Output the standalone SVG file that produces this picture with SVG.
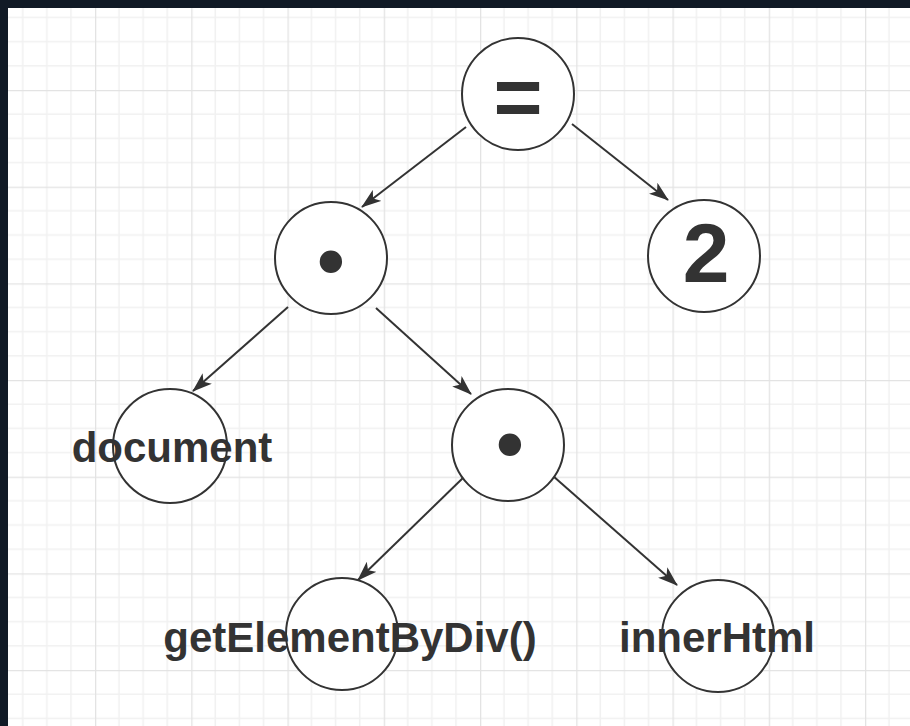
<svg xmlns="http://www.w3.org/2000/svg" width="910" height="726" viewBox="0 0 910 726">
  <defs>
    <pattern id="grid" patternUnits="userSpaceOnUse" x="95" y="90" width="96.25" height="96.67">
      <rect width="96.25" height="96.67" fill="#ffffff"/>
      <g stroke="#f1f1f1" stroke-width="1.5">
        <line x1="24.06" y1="0" x2="24.06" y2="96.67"/>
        <line x1="48.12" y1="0" x2="48.12" y2="96.67"/>
        <line x1="72.19" y1="0" x2="72.19" y2="96.67"/>
        <line x1="0" y1="24.17" x2="96.25" y2="24.17"/>
        <line x1="0" y1="48.33" x2="96.25" y2="48.33"/>
        <line x1="0" y1="72.5" x2="96.25" y2="72.5"/>
      </g>
      <g stroke="#e3e3e3" stroke-width="1.5">
        <line x1="0.5" y1="0" x2="0.5" y2="96.67"/>
        <line x1="0" y1="0.5" x2="96.25" y2="0.5"/>
      </g>
    </pattern>
    <marker id="arrow" markerUnits="userSpaceOnUse" viewBox="0 0 20 14" refX="19" refY="7" markerWidth="20" markerHeight="14" orient="auto">
      <path d="M0,0 L20,7 L0,14 L5,7 Z" fill="#333333"/>
    </marker>
    <style>
      .node circle { fill: #ffffff; stroke: #333333; stroke-width: 2; }
      .label { font-family: "Liberation Sans", Arial, sans-serif; font-weight: bold; fill: #333333; text-anchor: middle; }
      .big { font-size: 84px; }
      .word { font-size: 42px; }
      .dot { font-size: 78px; }
      .edge { stroke: #333333; stroke-width: 2; fill: none; marker-end: url(#arrow); }
    </style>
  </defs>

  <!-- canvas -->
  <rect width="910" height="726" fill="url(#grid)"/>
  <rect x="0" y="0" width="910" height="8" fill="#111a26"/>
  <rect x="0" y="0" width="8" height="726" fill="#111a26"/>

  <!-- connectors -->
  <g id="edges">
    <line class="edge" x1="466" y1="127" x2="362" y2="207"/>
    <line class="edge" x1="572" y1="124" x2="668" y2="200"/>
    <line class="edge" x1="288" y1="307" x2="193" y2="391"/>
    <line class="edge" x1="376" y1="308" x2="471" y2="394"/>
    <line class="edge" x1="466" y1="475" x2="358" y2="580"/>
    <line class="edge" x1="553" y1="476" x2="677" y2="585"/>
  </g>

  <g id="node-assign" class="node">
    <circle cx="518" cy="94" r="56"/>
    <text class="label big" x="518" y="126">=</text>
  </g>

  <g id="node-member-outer" class="node">
    <circle cx="331" cy="258" r="56"/>
    <text class="label dot" x="331" y="288">•</text>
  </g>

  <g id="node-value" class="node">
    <circle cx="704" cy="256" r="56"/>
    <text class="label big" x="706" y="282">2</text>
  </g>

  <g id="node-document" class="node">
    <circle cx="170" cy="446" r="57"/>
    <text class="label word" x="172" y="462">document</text>
  </g>

  <g id="node-member-inner" class="node">
    <circle cx="508" cy="445" r="56"/>
    <text class="label dot" x="510" y="471">•</text>
  </g>

  <g id="node-get-element" class="node">
    <circle cx="342" cy="634" r="56"/>
    <text class="label word" x="350" y="652">getElementByDiv()</text>
  </g>

  <g id="node-inner-html" class="node">
    <circle cx="718" cy="636" r="56"/>
    <text class="label word" x="717" y="652">innerHtml</text>
  </g>
</svg>
